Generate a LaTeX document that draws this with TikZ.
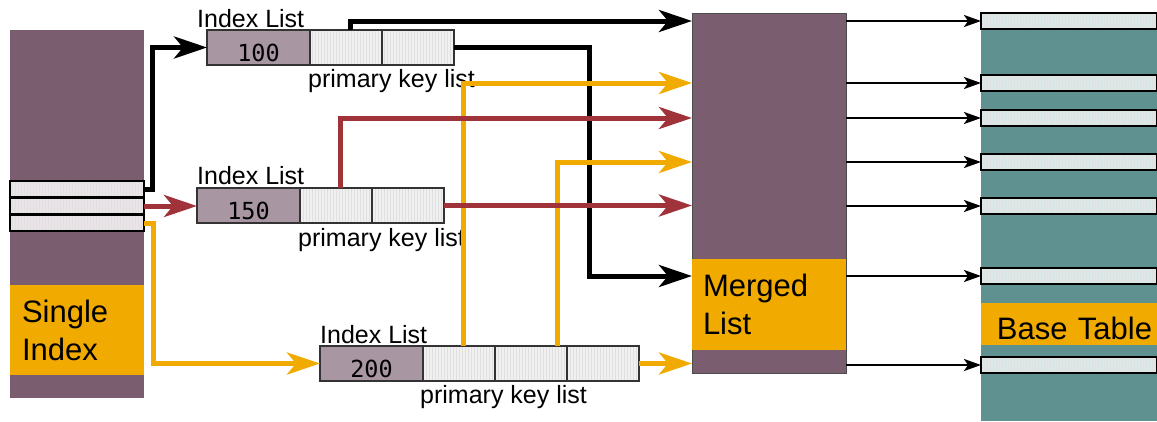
\documentclass[tikz,border=0pt]{standalone}
\usepackage{fontspec}
\setmainfont{Liberation Sans}
\newfontfamily\keyfont{DejaVu Sans Mono}
\usetikzlibrary{arrows.meta,positioning,calc,patterns}

\definecolor{idxpurple}{RGB}{122,94,112}
\definecolor{keyfill}{RGB}{168,150,163}
\definecolor{cellfill}{RGB}{240,240,240}
\definecolor{stripfill}{RGB}{234,228,232}
\definecolor{idxorange}{RGB}{240,170,0}
\definecolor{idxred}{RGB}{160,50,58}
\definecolor{tealcol}{RGB}{96,145,145}
\definecolor{rowfill}{RGB}{220,232,232}

\begin{document}
\begin{tikzpicture}[x=1pt, y=-1pt,
    col/.style={rectangle, inner sep=0pt, outer sep=0pt, anchor=north west},
    band/.style={col, fill=idxorange, font=\fontsize{31}{38}\selectfont, align=left},
    stripes/.style={fill=none, preaction={fill=#1}, preaction={pattern=vertical lines, pattern color=black!12}},
    strip/.style={col, draw=black, line width=1.8pt, stripes=stripfill, minimum width=134pt, minimum height=16pt},
    row/.style={col, draw=black, line width=1.8pt, stripes=rowfill, minimum width=176pt, minimum height=16pt},
    idxkey/.style={col, draw=black!80, line width=1.2pt, fill=keyfill, minimum width=103pt, minimum height=35pt,
        font=\keyfont\fontsize{23.5}{24}\selectfont, text height=28pt, text depth=0pt},
    cell/.style={idxkey, stripes=cellfill, minimum width=72pt, anchor=west},
    lbl/.style={font=\fontsize{25}{30}\selectfont, inner sep=0pt},
    fatarr/.style={line width=5pt, -{Stealth[length=33pt, width=22pt, inset=9pt]}},
    thinarr/.style={line width=2.3pt, -{Stealth[length=17pt, width=12pt, inset=4pt]}},
]
\useasboundingbox (0,0) rectangle (1157,421);

% single index
\node[col, fill=idxpurple, minimum width=134pt, minimum height=368pt] (single) at (10,30) {};
\node[band, minimum width=134pt, minimum height=90pt, text width=110pt, inner xsep=12pt] (singleband) at (10,285) {Single\\Index};
\foreach \y [count=\i] in {181,198,215}
  \node[strip] (s\i) at (10,\y) {};

% index lists
\node[idxkey] (k1) at (207,30) {100};
\node[cell, right=0pt of k1] (c11) {};
\node[cell, right=0pt of c11] (c12) {};
\node[idxkey] (k2) at (197,188) {150};
\node[cell, right=0pt of k2] (c21) {};
\node[cell, right=0pt of c21] (c22) {};
\node[idxkey] (k3) at (320,346) {200};
\node[cell, right=0pt of k3] (c31) {};
\node[cell, right=0pt of c31] (c32) {};
\node[cell, right=0pt of c32] (c33) {};

\node[lbl, anchor=base west] (t1) at ([xshift=-10pt,yshift=3pt]k1.north west) {Index List};
\node[lbl, anchor=base west] (t2) at ([yshift=4pt]k2.north west) {Index List};
\node[lbl, anchor=base west] (t3) at ([yshift=3pt]k3.north west) {Index List};
\node[lbl, anchor=base west] (p1) at ([xshift=-2pt,yshift=-22pt]c11.south west) {primary key list};
\node[lbl, anchor=base west] (p2) at ([xshift=-2pt,yshift=-23pt]c21.south west) {primary key list};
\node[lbl, anchor=base west] (p3) at ([xshift=-3pt,yshift=-22pt]c31.south west) {primary key list};

% merged list and base table
\node[col, fill=idxpurple, draw=black!70, line width=1pt, minimum width=154pt, minimum height=360pt] (merged) at (692,13) {};
\node[band, minimum width=154pt, minimum height=91pt, text width=132pt, inner xsep=11pt] (mergedband) at (692,259) {Merged\\List};
\node[col, fill=tealcol, minimum width=176pt, minimum height=408pt] (base) at (981,13) {};
\node[band, minimum width=176pt, minimum height=42pt, text width=166pt, inner xsep=5pt, align=right,
    text height=31pt, text depth=0pt] (baseband) at (981,303) {Base Table};
\foreach \y [count=\i] in {13,75,110,154,198,268,357} {
  \node[row] (r\i) at (981,\y) {};
  \coordinate (m\i) at (merged.west |- r\i.west);
  \draw[thinarr] (merged.east |- r\i.west) -- (r\i.west);
}

% connectors
\draw[fatarr] (s1.east) -- ++(8,0) |- (k1.west);
\draw[fatarr] ([xshift=4pt]c11.north) |- (m1);
\draw[fatarr] (c12.east) -- ++(135,0) |- (m6);
\draw[fatarr, idxorange] (s3.east) -- ++(9,0) |- (k3.west);
\draw[fatarr, idxorange] ([xshift=4pt]c31.north) |- (m2);
\draw[fatarr, idxorange] ([xshift=-10pt]c32.north east) |- (m4);
\draw[fatarr, idxorange] (c33.east) -- (c33.east -| merged.west);
\draw[fatarr, idxred] (s2.east) -- (s2.east -| k2.west);
\draw[fatarr, idxred] ([xshift=4pt]c21.north) |- (m3);
\draw[fatarr, idxred] (c22.east) -- (c22.east -| merged.west);
\end{tikzpicture}
\end{document}
